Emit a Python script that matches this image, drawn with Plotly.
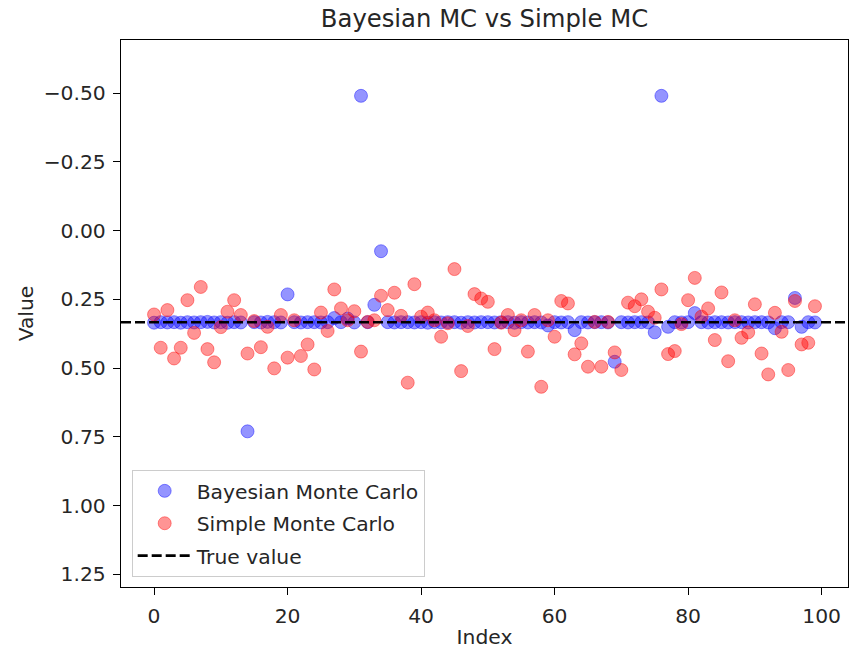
import plotly.graph_objects as go

# Sample index for each Monte Carlo run
index = list(range(100))

# Estimates from the Bayesian Monte Carlo runs
bayesian_mc = [
    0.335, 0.333, 0.334, 0.333, 0.335, 0.333, 0.334, 0.333, 0.332, 0.334,
    0.333, 0.335, 0.333, 0.334, 0.730, 0.333, 0.334, 0.332, 0.333, 0.334,
    0.232, 0.333, 0.334, 0.333, 0.333, 0.334, 0.333, 0.318, 0.333, 0.320,
    0.334, -0.490, 0.333, 0.270, 0.075, 0.333, 0.334, 0.333, 0.333, 0.334,
    0.333, 0.335, 0.333, 0.334, 0.333, 0.333, 0.335, 0.333, 0.334, 0.333,
    0.333, 0.334, 0.333, 0.333, 0.335, 0.333, 0.334, 0.333, 0.334, 0.345,
    0.333, 0.334, 0.333, 0.362, 0.333, 0.334, 0.333, 0.333, 0.334, 0.477,
    0.333, 0.334, 0.333, 0.333, 0.334, 0.370, -0.490, 0.350, 0.333, 0.334,
    0.333, 0.300, 0.333, 0.334, 0.333, 0.333, 0.334, 0.333, 0.333, 0.334,
    0.333, 0.333, 0.334, 0.355, 0.333, 0.333, 0.245, 0.350, 0.333, 0.334,
]

# Estimates from the simple Monte Carlo runs
simple_mc = [
    0.305, 0.426, 0.289, 0.465, 0.426, 0.253, 0.372, 0.205, 0.431, 0.479,
    0.351, 0.295, 0.253, 0.307, 0.447, 0.329, 0.424, 0.350, 0.501, 0.307,
    0.462, 0.326, 0.456, 0.414, 0.505, 0.298, 0.365, 0.214, 0.283, 0.326,
    0.293, 0.440, 0.332, 0.326, 0.237, 0.289, 0.226, 0.310, 0.553, 0.195,
    0.313, 0.298, 0.326, 0.386, 0.337, 0.140, 0.511, 0.347, 0.231, 0.247,
    0.259, 0.431, 0.335, 0.307, 0.362, 0.326, 0.440, 0.307, 0.568, 0.326,
    0.386, 0.256, 0.265, 0.450, 0.410, 0.495, 0.332, 0.495, 0.332, 0.443,
    0.507, 0.262, 0.275, 0.250, 0.295, 0.317, 0.214, 0.449, 0.438, 0.340,
    0.253, 0.172, 0.313, 0.283, 0.398, 0.225, 0.475, 0.326, 0.390, 0.370,
    0.268, 0.447, 0.523, 0.299, 0.368, 0.507, 0.256, 0.414, 0.408, 0.275,
]

TRUE_VALUE = 1 / 3

x_ticks = [0, 20, 40, 60, 80, 100]
y_ticks = [-0.50, -0.25, 0.00, 0.25, 0.50, 0.75, 1.00, 1.25]
x_range = [-4.95, 103.95]
y_range = [1.296, -0.693]  # inverted axis

FONT = "DejaVu Sans"
TEXT = "#262626"
TICK_SIZE = 20.3

fig = go.Figure()

fig.add_trace(go.Scatter(
    x=index, y=bayesian_mc, mode="markers", name="Bayesian Monte Carlo",
    legendgroup="a",
    marker=dict(size=13, color="rgba(0,0,255,0.42)",
                line=dict(color="rgba(0,0,255,0.42)", width=1)),
))
fig.add_trace(go.Scatter(
    x=index, y=simple_mc, mode="markers", name="Simple Monte Carlo",
    legendgroup="b",
    marker=dict(size=13, color="rgba(255,0,0,0.42)",
                line=dict(color="rgba(255,0,0,0.42)", width=1)),
))
fig.add_trace(go.Scatter(
    x=x_range, y=[TRUE_VALUE, TRUE_VALUE], mode="lines", name="True value",
    legendgroup="c",
    line=dict(color="black", width=2.6, dash="10px,4px"),
))

axis_common = dict(
    showgrid=False, zeroline=False, showline=True, mirror=True,
    linecolor="black", linewidth=1.3, ticks="outside", ticklen=7,
    tickwidth=1.3, tickcolor="black", ticklabelstandoff=3,
    tickfont=dict(family=FONT, size=TICK_SIZE, color=TEXT),
)

fig.update_layout(
    width=849, height=649,
    margin=dict(l=121, r=1, t=40, b=62),
    paper_bgcolor="white", plot_bgcolor="white",
    font=dict(family=FONT, color=TEXT),
    title=dict(text="Bayesian MC vs Simple MC", x=0.5, xref="paper",
               y=1 - 18 / 649, yref="container", yanchor="middle",
               font=dict(family=FONT, size=24.3, color=TEXT)),
    xaxis=dict(range=x_range, tickvals=x_ticks,
               title=dict(text="Index", standoff=4,
                          font=dict(family=FONT, size=TICK_SIZE, color=TEXT)),
               **axis_common),
    yaxis=dict(range=y_range, tickvals=y_ticks, tickformat=".2f",
               title=dict(text="Value", standoff=4,
                          font=dict(family=FONT, size=TICK_SIZE, color=TEXT)),
               **axis_common),
    legend=dict(x=0.0147, y=0.018, xanchor="left", yanchor="bottom",
                bgcolor="rgba(255,255,255,0.8)", bordercolor="#cccccc",
                borderwidth=1, traceorder="grouped", tracegroupgap=3,
                font=dict(family=FONT, size=TICK_SIZE, color=TEXT),
                itemwidth=54),
    showlegend=True,
)

fig.write_html("out.html")
